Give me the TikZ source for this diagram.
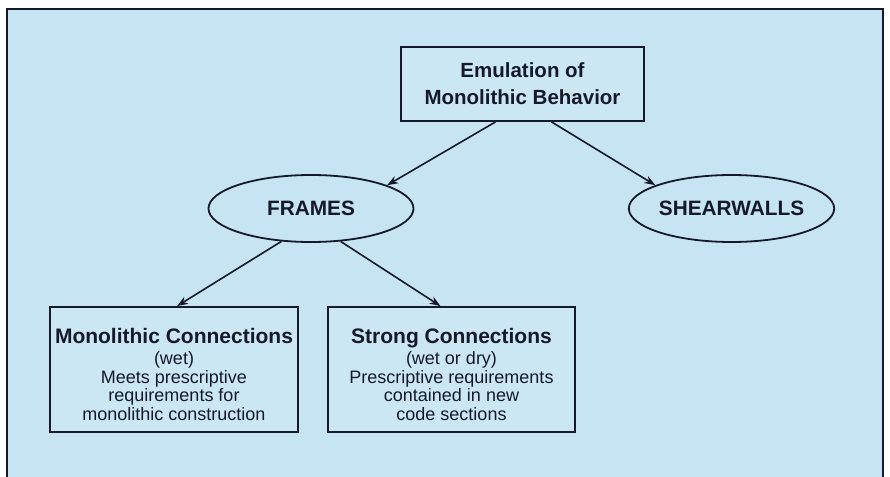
\documentclass[tikz,border=0pt]{standalone}
\usepackage{fontspec}
\setmainfont{Liberation Sans}
\usetikzlibrary{arrows.meta,shapes.geometric,calc}
\definecolor{bg}{HTML}{C6E4F2}
\definecolor{boxfill}{HTML}{CBE7F4}
\definecolor{ink}{HTML}{16192A}
\begin{document}
\begin{tikzpicture}[x=1pt,y=-1pt,
  every node/.style={text=ink},
  boxnode/.style={draw=ink,line width=1.8pt,fill=boxfill,rectangle,inner sep=0pt},
  ovalnode/.style={draw=ink,line width=1.8pt,ellipse,inner sep=0pt,minimum width=205pt,minimum height=67pt,font=\fontsize{20.8}{24}\selectfont\bfseries},
  boxtext/.style={align=center,inner sep=0pt,font=\fontsize{18}{18.5}\selectfont},
  arrowline/.style={draw=ink,line width=1.6pt,-{Stealth[length=11pt,width=8pt]}}
  ]
\useasboundingbox (0,0) rectangle (890,476);
\fill[white] (0,0) rectangle (890,476);
\node[draw=ink, fill=bg, line width=2pt, rectangle, minimum width=876pt, minimum height=480pt, anchor=north west, inner sep=0pt] (panel) at (6,8) {};

\node[boxnode, minimum width=243pt, minimum height=74pt, align=center, font=\fontsize{20.5}{27}\selectfont\bfseries] (top) at (522.5,84) {Emulation of\\Monolithic Behavior};

\node[ovalnode] (frames) at (311,208.5) {FRAMES};
\node[ovalnode, minimum width=203pt] (shear) at (731.5,208.5) {SHEARWALLS};

\node[boxnode, minimum width=248pt, minimum height=125pt] (mono) at (174,369.5) {};
\node[boxtext] (monotext) at (174,374) {{\bfseries\fontsize{21}{24}\selectfont Monolithic Connections}\\[3pt](wet)\\Meets prescriptive\\requirements for\\monolithic construction};

\node[boxnode, minimum width=247pt, minimum height=125pt] (strong) at (451.5,369.5) {};
\node[boxtext] (strongtext) at (451.5,374) {{\bfseries\fontsize{21}{24}\selectfont Strong Connections}\\[3pt](wet or dry)\\Prescriptive requirements\\contained in new\\code sections};

\draw[arrowline] ($(top.south)+(-27,0)$) -- (frames.17);
\draw[arrowline] ($(top.south)+(29,0)$) -- (shear.163);
\draw[arrowline] (frames.228) -- ($(mono.north)+(3,0)$);
\draw[arrowline] (frames.312) -- ($(strong.north)+(-11,0)$);
\end{tikzpicture}
\end{document}
